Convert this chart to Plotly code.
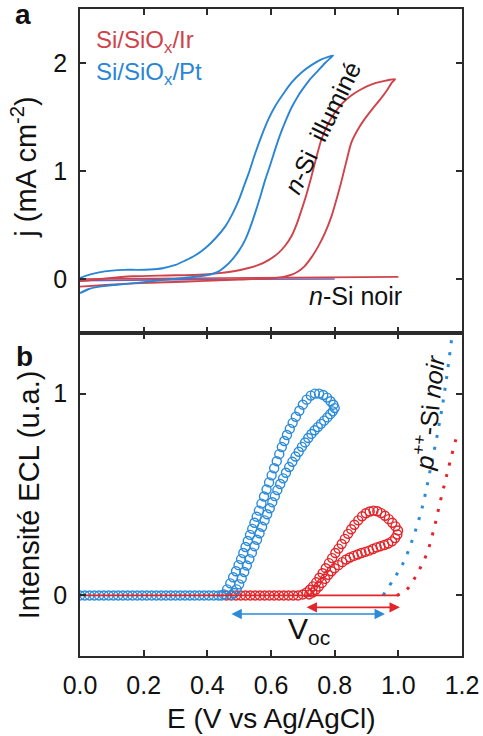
import plotly.graph_objects as go

# ---------------- Panel a : cyclic voltammetry (j, mA cm-2) ----------------
PT_FWD_E = [0.000, 0.030, 0.060, 0.100, 0.140, 0.180, 0.220, 0.260, 0.300, 0.330, 0.360, 0.395, 0.425,
            0.457, 0.480, 0.500, 0.515, 0.530, 0.550, 0.571, 0.592, 0.613, 0.640, 0.665, 0.695, 0.727,
            0.760, 0.795]
PT_FWD_J = [0.010, 0.040, 0.062, 0.078, 0.085, 0.085, 0.088, 0.100, 0.130, 0.170, 0.215, 0.290, 0.375,
            0.490, 0.610, 0.740, 0.860, 0.980, 1.160, 1.330, 1.480, 1.600, 1.720, 1.820, 1.910, 1.980,
            2.035, 2.070]
PT_REV_E = [0.790, 0.770, 0.748, 0.720, 0.700, 0.686, 0.665, 0.644, 0.628, 0.613, 0.598, 0.582, 0.566,
            0.550, 0.535, 0.520, 0.500, 0.478, 0.456, 0.436, 0.410, 0.374, 0.320, 0.270, 0.220, 0.166,
            0.110, 0.062, 0.030, 0.000]
PT_REV_J = [2.055, 2.000, 1.930, 1.840, 1.760, 1.700, 1.590, 1.450, 1.330, 1.200, 1.060, 0.920, 0.760,
            0.610, 0.480, 0.370, 0.265, 0.180, 0.115, 0.070, 0.042, 0.025, 0.008, -0.006, -0.022, -0.040,
            -0.055, -0.070, -0.090, -0.130]

IR_FWD_E = [0.000, 0.080, 0.166, 0.270, 0.374, 0.430, 0.478, 0.520, 0.561, 0.595, 0.623, 0.645, 0.665,
            0.681, 0.696, 0.712, 0.727, 0.742, 0.758, 0.778, 0.800, 0.825, 0.852, 0.882, 0.914, 0.950,
            0.990]
IR_FWD_J = [-0.020, 0.005, 0.025, 0.033, 0.040, 0.052, 0.070, 0.095, 0.130, 0.180, 0.240, 0.310, 0.400,
            0.510, 0.640, 0.790, 0.950, 1.120, 1.290, 1.430, 1.540, 1.630, 1.700, 1.755, 1.800, 1.830,
            1.850]
IR_REV_E = [0.980, 0.965, 0.945, 0.920, 0.894, 0.872, 0.852, 0.836, 0.820, 0.805, 0.790, 0.770, 0.748,
            0.727, 0.706, 0.685, 0.665, 0.640, 0.613, 0.500, 0.374, 0.270, 0.166, 0.080, 0.000]
IR_REV_J = [1.820, 1.750, 1.670, 1.580, 1.480, 1.380, 1.260, 1.080, 0.890, 0.730, 0.580, 0.430, 0.300,
            0.200, 0.120, 0.070, 0.040, 0.020, 0.010, -0.005, -0.020, -0.030, -0.040, -0.055, -0.070]

DARK_IR_E = [0.0, 0.3, 0.6, 0.85, 1.0]
DARK_IR_J = [0.0, 0.005, 0.010, 0.015, 0.020]
DARK_PT_E = [0.0, 0.4, 0.8]
DARK_PT_J = [-0.015, -0.003, 0.0]

# ---------------- Panel b : ECL intensity (a.u.) ----------------
ECL_PT_E = [0.000, 0.015, 0.030, 0.045, 0.060, 0.075, 0.090, 0.105, 0.120, 0.135, 0.150, 0.165, 0.180,
            0.195, 0.210, 0.225, 0.240, 0.255, 0.270, 0.285, 0.300, 0.315, 0.330, 0.345, 0.360, 0.375,
            0.390, 0.405, 0.420, 0.435, 0.445,
            0.452, 0.462, 0.472, 0.481, 0.490, 0.498, 0.506, 0.513, 0.520, 0.527, 0.534, 0.541, 0.548,
            0.555, 0.562, 0.570, 0.578, 0.586, 0.594, 0.602, 0.610, 0.618, 0.626, 0.634, 0.642, 0.650,
            0.659, 0.668, 0.678, 0.689, 0.700, 0.712, 0.725, 0.738, 0.751, 0.764, 0.776, 0.787, 0.796,
            0.800,
            0.794, 0.786, 0.777, 0.767, 0.757, 0.747, 0.737, 0.727, 0.717, 0.707, 0.697, 0.687, 0.677,
            0.667, 0.657, 0.647, 0.638, 0.629, 0.620, 0.612, 0.604, 0.596, 0.588, 0.580, 0.572, 0.564,
            0.556, 0.548, 0.540, 0.532, 0.524, 0.516, 0.508, 0.500, 0.492, 0.484, 0.476]
ECL_PT_I = [0.0] * 31 + [
            0.005, 0.030, 0.060, 0.090, 0.120, 0.150, 0.180, 0.210, 0.240, 0.270, 0.300, 0.330, 0.360,
            0.390, 0.420, 0.455, 0.490, 0.525, 0.560, 0.595, 0.630, 0.665, 0.700, 0.735, 0.765, 0.795,
            0.825, 0.855, 0.885, 0.915, 0.945, 0.970, 0.990, 1.000, 1.000, 0.993, 0.980, 0.962, 0.945,
            0.928,
            0.912, 0.898, 0.882, 0.866, 0.850, 0.834, 0.818, 0.800, 0.780, 0.758, 0.736, 0.712, 0.688,
            0.662, 0.636, 0.608, 0.580, 0.552, 0.522, 0.492, 0.462, 0.432, 0.402, 0.372, 0.340, 0.308,
            0.276, 0.244, 0.212, 0.180, 0.148, 0.116, 0.084, 0.055, 0.030, 0.012, 0.003]

ECL_IR_E = [0.460, 0.475, 0.490, 0.505, 0.520, 0.535, 0.550, 0.565, 0.580, 0.595, 0.610, 0.625, 0.640,
            0.655, 0.670, 0.685,
            0.700, 0.712, 0.722, 0.732, 0.742, 0.752, 0.762, 0.772, 0.782, 0.792, 0.802, 0.812, 0.822,
            0.832, 0.842, 0.852, 0.862, 0.874, 0.886, 0.898, 0.910, 0.922, 0.934, 0.946, 0.958, 0.970,
            0.981, 0.991, 0.999,
            0.997, 0.990, 0.980, 0.968, 0.956, 0.944, 0.932, 0.920, 0.908, 0.896, 0.884, 0.872, 0.860,
            0.848, 0.836, 0.824, 0.812, 0.800, 0.790, 0.780, 0.770, 0.760, 0.750, 0.740, 0.730, 0.720]
ECL_IR_I = [0.0] * 16 + [
            0.005, 0.015, 0.028, 0.045, 0.065, 0.088, 0.110, 0.135, 0.160, 0.185, 0.210, 0.232, 0.255,
            0.280, 0.305, 0.328, 0.350, 0.372, 0.392, 0.407, 0.416, 0.420, 0.417, 0.408, 0.395, 0.378,
            0.360, 0.342, 0.322,
            0.302, 0.284, 0.268, 0.257, 0.250, 0.244, 0.238, 0.230, 0.222, 0.216, 0.210, 0.203, 0.196,
            0.188, 0.178, 0.165, 0.150, 0.135, 0.120, 0.102, 0.082, 0.062, 0.044, 0.028, 0.014, 0.005]

DARK_ECL_E = [0.0, 1.0]
DARK_ECL_I = [0.0, 0.0]

PPSI_PT_E = [0.952, 0.985, 1.015, 1.045, 1.074, 1.100, 1.131, 1.150, 1.169]
PPSI_PT_I = [0.000, 0.080, 0.160, 0.280, 0.430, 0.620, 0.870, 1.060, 1.290]
PPSI_IR_E = [0.995, 1.027, 1.060, 1.090, 1.112, 1.131, 1.148, 1.162, 1.187]
PPSI_IR_I = [0.000, 0.030, 0.110, 0.210, 0.330, 0.460, 0.570, 0.660, 0.810]

VOC_IR = [0.707, 1.005]
VOC_PT = [0.471, 0.958]
VOC_IR_Y = -0.059
VOC_PT_Y = -0.092

X_TICKS = [0.0, 0.2, 0.4, 0.6, 0.8, 1.0, 1.2]
X_TICK_TEXT = ["0.0", "0.2", "0.4", "0.6", "0.8", "1.0", "1.2"]

RED_A = "#cf434b"
BLUE_A = "#2a86d4"
RED_B = "#e2252a"
BLUE_B = "#2b8bd9"
FONT = "Liberation Sans, Arial, sans-serif"
AX = "#2b2b2b"

fig = go.Figure()

# panel a
fig.add_trace(go.Scatter(x=DARK_PT_E, y=DARK_PT_J, mode="lines", line=dict(color="#6a63b8", width=1.6),
                         xaxis="x", yaxis="y", showlegend=False))
fig.add_trace(go.Scatter(x=DARK_IR_E, y=DARK_IR_J, mode="lines", line=dict(color=RED_A, width=1.6),
                         xaxis="x", yaxis="y", showlegend=False))
fig.add_trace(go.Scatter(x=IR_FWD_E + IR_REV_E, y=IR_FWD_J + IR_REV_J, mode="lines",
                         line=dict(color=RED_A, width=1.9, shape="spline", smoothing=0.6),
                         xaxis="x", yaxis="y", showlegend=False))
fig.add_trace(go.Scatter(x=PT_FWD_E + PT_REV_E, y=PT_FWD_J + PT_REV_J, mode="lines",
                         line=dict(color=BLUE_A, width=1.9, shape="spline", smoothing=0.6),
                         xaxis="x", yaxis="y", showlegend=False))

# panel b
fig.add_trace(go.Scatter(x=PPSI_PT_E, y=PPSI_PT_I, mode="lines",
                         line=dict(color=BLUE_B, width=3, dash="3px,9px", shape="spline"),
                         xaxis="x2", yaxis="y2", showlegend=False))
fig.add_trace(go.Scatter(x=PPSI_IR_E, y=PPSI_IR_I, mode="lines",
                         line=dict(color=RED_B, width=3, dash="3px,9px", shape="spline"),
                         xaxis="x2", yaxis="y2", showlegend=False))
fig.add_trace(go.Scatter(x=ECL_IR_E, y=ECL_IR_I, mode="markers",
                         marker=dict(symbol="circle-open", size=9, color=RED_B, line=dict(width=1.4)),
                         xaxis="x2", yaxis="y2", showlegend=False))
fig.add_trace(go.Scatter(x=ECL_PT_E, y=ECL_PT_I, mode="markers",
                         marker=dict(symbol="circle-open", size=9, color=BLUE_B, line=dict(width=1.4)),
                         xaxis="x2", yaxis="y2", showlegend=False))
fig.add_trace(go.Scatter(x=DARK_ECL_E, y=DARK_ECL_I, mode="lines", line=dict(color=RED_B, width=1.8),
                         xaxis="x2", yaxis="y2", showlegend=False))

axis_common = dict(showline=True, linecolor=AX, linewidth=1.5, mirror="ticks", ticks="inside",
                   ticklen=6, tickwidth=1.5, tickcolor=AX, showgrid=False, zeroline=False,
                   automargin=False, tickfont=dict(family=FONT, size=25, color="#111"))

DOM = 0.4992
fig.update_layout(
    width=483, height=736,
    margin=dict(l=80, r=21, t=9, b=80),
    paper_bgcolor="white", plot_bgcolor="white",
    font=dict(family=FONT, color="#111"),
    xaxis=dict(domain=[0, 1], anchor="y", range=[0, 1.2], tickvals=X_TICKS, showticklabels=False,
               **axis_common),
    yaxis=dict(domain=[DOM, 1], anchor="x", range=[-0.5, 2.5], tickvals=[0, 1, 2],
               ticklabelstandoff=6, **axis_common),
    xaxis2=dict(domain=[0, 1], anchor="y2", range=[0, 1.2], tickvals=X_TICKS, ticktext=X_TICK_TEXT,
                ticklabelstandoff=6, **axis_common),
    yaxis2=dict(domain=[0, DOM], anchor="x2", range=[-0.3, 1.3], tickvals=[0, 1],
                ticklabelstandoff=6, **axis_common),
)

ann = []
def txt(x, y, text, size, color="#111", angle=0, xanchor="center", yanchor="middle", xref="paper", yref="paper"):
    ann.append(dict(x=x, y=y, xref=xref, yref=yref, text=text, showarrow=False, textangle=angle,
                    xanchor=xanchor, yanchor=yanchor, font=dict(family=FONT, size=size, color=color)))

txt(-0.147, 0.756, "j (mA cm<sup>-2</sup>)", 29, angle=-90)
txt(-0.135, 0.249, "Intensité ECL (u.a.)", 29, angle=-90)
txt(0.5, -0.096, "E (V vs Ag/AgCl)", 28)
txt(-0.150, 0.992, "<b>a</b>", 28)
txt(-0.144, 0.463, "<b>b</b>", 28)
txt(0.036, 0.949, "Si/SiO<sub>x</sub>/Ir", 24, color=RED_A, xanchor="left")
txt(0.036, 0.901, "Si/SiO<sub>x</sub>/Pt", 24, color=BLUE_A, xanchor="left")
txt(0.634, 0.816, "<i>n</i>-Si  illuminé", 25, angle=-64)
txt(0.720, 0.556, "<i>n</i>-Si noir", 25)
txt(0.912, 0.377, "<i>p</i><sup>++</sup>-Si <i>noir</i>", 25, angle=-84)
txt(0.600, 0.040, "V<sub>oc</sub>", 30)

for (x0, x1), yv, col in [(VOC_PT, VOC_PT_Y, BLUE_B), (VOC_IR, VOC_IR_Y, RED_B)]:
    ann.append(dict(x=x1, y=yv, ax=x0, ay=yv, xref="x2", yref="y2", axref="x2", ayref="y2", text="",
                    showarrow=True, arrowhead=2, arrowside="end+start", arrowsize=1.3, arrowwidth=1.6,
                    arrowcolor=col))

fig.update_layout(annotations=ann)
fig.write_html("out.html", config={"displayModeBar": False},
               post_script="document.body.style.margin='0';document.body.style.padding='0';")
